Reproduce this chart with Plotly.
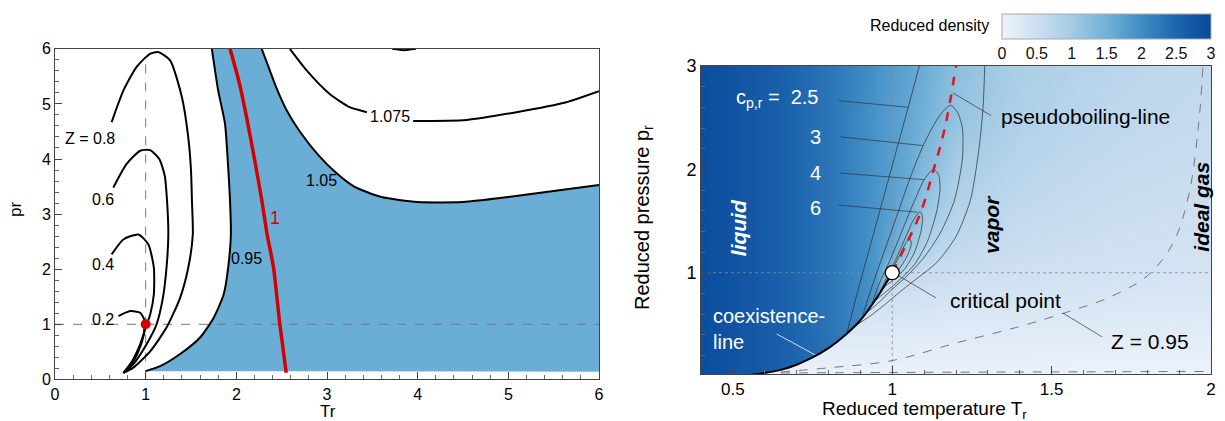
import plotly.graph_objects as go
from plotly.colors import sample_colorscale

FONT = "Liberation Sans, Arial, sans-serif"

# ---------------- LEFT PANEL DATA (compressibility chart) ----------------
z02_T = [0.70, 0.83, 0.94, 0.99, 0.985, 0.98, 0.92, 0.83, 0.754]
z02_p = [1.15, 1.24, 1.21, 1.06, 0.95, 0.82, 0.51, 0.24, 0.12]
z04_T = [0.625, 0.754, 0.92, 1.03, 1.09, 1.09, 1.05, 1.0, 0.94, 0.85, 0.754]
z04_p = [2.27, 2.54, 2.63, 2.45, 2.03, 1.54, 1.18, 0.94, 0.64, 0.33, 0.12]
z06_T = [0.643, 0.79, 0.94, 1.05, 1.15, 1.21, 1.235, 1.25, 1.23, 1.19, 1.12, 1.01, 0.86, 0.754]
z06_p = [3.48, 3.91, 4.15, 4.16, 4.00, 3.70, 3.26, 2.63, 2.03, 1.48, 1.00, 0.64, 0.27, 0.12]
z08_T = [0.625, 0.754, 0.90, 1.048, 1.14, 1.27, 1.40, 1.47, 1.50, 1.51, 1.52, 1.47, 1.38, 1.23, 1.05, 0.86, 0.754]
z08_p = [4.67, 5.24, 5.67, 5.91, 5.94, 5.79, 5.12, 4.39, 3.80, 3.26, 2.63, 2.03, 1.48, 0.94, 0.51, 0.21, 0.12]
z095_T = [1.73, 1.80, 1.875, 1.91, 1.93, 1.94, 1.91, 1.86, 1.75, 1.60, 1.38, 1.16, 1.0]
z095_p = [6.0, 5.24, 4.64, 3.85, 3.26, 2.63, 2.03, 1.54, 1.12, 0.76, 0.46, 0.24, 0.15]
z1_T = [1.93, 2.03, 2.12, 2.20, 2.28, 2.34, 2.41, 2.48, 2.55]
z1_p = [6.0, 5.4, 4.7, 4.0, 3.26, 2.63, 2.03, 1.0, 0.12]
z105_T = [2.28, 2.36, 2.44, 2.55, 2.70, 2.90, 3.10, 3.30, 3.60, 4.00, 4.50, 5.00, 5.50, 6.00]
z105_p = [6.0, 5.65, 5.30, 4.90, 4.50, 4.08, 3.75, 3.50, 3.31, 3.22, 3.22, 3.31, 3.42, 3.53]
z1075a_T = [2.59, 2.78, 3.03, 3.25, 3.44]
z1075a_p = [6.0, 5.6, 5.18, 4.94, 4.85]
z1075b_T = [3.95, 4.54, 5.09, 5.64, 6.0]
z1075b_p = [4.69, 4.71, 4.85, 5.03, 5.23]
z11_T = [3.72, 3.85, 3.98]
z11_p = [6.0, 5.975, 6.0]
fill_bottom_p = 0.14
Tr_max = 6.0

left_labels = [
    ("Z = 0.8", 0.386, 4.38), ("0.6", 0.533, 3.26), ("0.4", 0.533, 2.09),
    ("0.2", 0.533, 1.09), ("0.95", 2.11, 2.2), ("1.05", 2.94, 3.61),
    ("1.075", 3.69, 4.77),
]

# ---------------- RIGHT PANEL DATA ----------------
dens_T = [0.35, 0.5, 0.65, 0.8, 0.9, 0.95, 1.0, 1.05, 1.1, 1.2, 1.4, 1.7, 2.05]
dens_p = [-0.05, 0.3, 0.6, 0.9, 1.0, 1.2, 1.6, 2.0, 2.5, 3.1]
dens_z = [
    [2.95, 2.8, 2.6, 2.35, 2.1, 1.95, 0.02, 0.02, 0.02, 0.02, 0.02, 0.02, 0.02],
    [2.95, 2.8, 2.6, 2.35, 2.1, 1.95, 0.20, 0.18, 0.17, 0.16, 0.16, 0.15, 0.14],
    [2.95, 2.8, 2.6, 2.30, 2.05, 1.90, 0.38, 0.35, 0.33, 0.31, 0.30, 0.27, 0.25],
    [2.95, 2.8, 2.6, 2.30, 2.05, 1.85, 0.60, 0.55, 0.52, 0.48, 0.44, 0.38, 0.34],
    [2.95, 2.8, 2.6, 2.30, 2.05, 1.85, 1.00, 0.64, 0.57, 0.51, 0.46, 0.40, 0.36],
    [2.95, 2.8, 2.6, 2.30, 2.05, 1.85, 1.60, 1.05, 0.78, 0.63, 0.54, 0.46, 0.41],
    [2.95, 2.8, 2.6, 2.30, 2.05, 1.90, 1.72, 1.50, 1.12, 0.80, 0.65, 0.54, 0.48],
    [2.95, 2.8, 2.6, 2.30, 2.05, 1.90, 1.75, 1.60, 1.35, 0.95, 0.74, 0.61, 0.54],
    [2.95, 2.8, 2.6, 2.30, 2.05, 1.90, 1.78, 1.65, 1.50, 1.15, 0.85, 0.69, 0.60],
    [2.95, 2.8, 2.6, 2.30, 2.08, 1.92, 1.80, 1.70, 1.58, 1.25, 0.92, 0.75, 0.65],
]
# vapour side just below the coexistence line
vap_p = [-0.05, 0.3, 0.6, 0.9, 1.0]
vap_rho = [0.02, 0.20, 0.38, 0.60, 0.70]

coex_T = [0.55, 0.6, 0.65, 0.7, 0.75, 0.8, 0.85, 0.9, 0.95, 1.0]
coex_p = [0.01, 0.03, 0.06, 0.11, 0.18, 0.27, 0.39, 0.54, 0.75, 1.0]

pb_T = [1.0, 1.04, 1.09, 1.13, 1.165, 1.20]
pb_p = [1.0, 1.25, 1.59, 2.0, 2.4, 3.0]

cp25_left_T = [0.858, 0.89, 0.93, 0.97, 1.01, 1.05, 1.085]
cp25_left_p = [0.414, 0.8, 1.25, 1.7, 2.15, 2.6, 3.0]
cp25_right_T = [1.29, 1.285, 1.27, 1.245, 1.2, 1.14, 1.08, 1.03, 0.98, 0.93, 0.88]
cp25_right_p = [3.0, 2.6, 2.15, 1.7, 1.35, 1.1, 0.95, 0.83, 0.7, 0.58, 0.477]
cp3_T = [0.905, 0.94, 0.98, 1.02, 1.06, 1.10, 1.14, 1.165, 1.183, 1.205, 1.22, 1.22, 1.195,
         1.15, 1.10, 1.05, 1.0, 0.95, 0.915]
cp3_p = [0.561, 0.9, 1.25, 1.6, 1.95, 2.25, 2.48, 2.58, 2.62, 2.55, 2.4, 2.1, 1.7,
         1.38, 1.15, 0.98, 0.84, 0.69, 0.603]
cp4_T = [0.935, 0.96, 0.99, 1.03, 1.07, 1.10, 1.12, 1.13, 1.145, 1.15, 1.14, 1.11, 1.07,
         1.03, 0.99, 0.945]
cp4_p = [0.687, 0.9, 1.1, 1.4, 1.7, 1.9, 1.98, 2.0, 1.95, 1.82, 1.6, 1.3, 1.08,
         0.95, 0.84, 0.729]
cp6_T = [0.96, 0.985, 1.01, 1.04, 1.065, 1.08, 1.088, 1.095, 1.09, 1.07, 1.04, 1.01, 0.97]
cp6_p = [0.80, 0.97, 1.12, 1.33, 1.50, 1.57, 1.59, 1.54, 1.40, 1.20, 1.04, 0.95, 0.85]
cp10_T = [0.975, 0.995, 1.02, 1.045, 1.055, 1.06, 1.045, 1.02, 0.99, 0.98]
cp10_p = [0.875, 1.0, 1.15, 1.3, 1.33, 1.28, 1.15, 1.03, 0.93, 0.90]

z095r_T = [0.65, 0.8, 1.0, 1.2, 1.4, 1.55, 1.68, 1.8, 1.88, 1.93, 1.96, 1.975]
z095r_p = [0.04, 0.08, 0.15, 0.32, 0.48, 0.62, 0.76, 0.97, 1.28, 1.75, 2.4, 3.0]
zlow_T = [0.65, 1.0, 1.5, 2.0]
zlow_p = [0.03, 0.035, 0.04, 0.045]

leaders = [  # (T0, p0, T1, p1)
    (0.832, 2.665, 1.05, 2.60),
    (0.837, 2.315, 1.095, 2.23),
    (0.837, 1.964, 1.10, 1.90),
    (0.832, 1.655, 1.08, 1.585),
    (1.19, 2.74, 1.31, 2.52),
    (1.022, 0.967, 1.137, 0.757),
    (1.535, 0.61, 1.658, 0.38),
]
coex_leader = (0.638, 0.406, 0.758, 0.205)

dens_colorscale = [
    [0.0, "#eef3fb"], [0.1, "#dae7f5"], [0.2, "#c6dbef"], [0.333, "#a3cbe4"],
    [0.5, "#72b1d8"], [0.667, "#3f8dc5"], [0.833, "#1e66ae"], [1.0, "#08479a"],
]

fig = go.Figure()

# ================= LEFT PANEL =================
fill_T = z095_T + [Tr_max, Tr_max] + z105_T[::-1]
fill_p = z095_p + [fill_bottom_p, z105_p[-1]] + z105_p[::-1]
fig.add_trace(go.Scatter(x=fill_T, y=fill_p, fill="toself", fillcolor="#6aaed6",
                         line=dict(width=0), mode="lines", xaxis="x", yaxis="y",
                         hoverinfo="skip"))
fig.add_trace(go.Scatter(x=[1.0, 1.0], y=[0, 5.85], mode="lines",
                         line=dict(color="#777", width=1, dash="dash"), xaxis="x", yaxis="y"))
fig.add_trace(go.Scatter(x=[0, Tr_max], y=[1, 1], mode="lines",
                         line=dict(color="#777", width=1, dash="dash"), xaxis="x", yaxis="y"))
for T, p in [(z02_T, z02_p), (z04_T, z04_p), (z06_T, z06_p), (z08_T, z08_p),
             (z095_T, z095_p), (z105_T, z105_p), (z1075a_T, z1075a_p),
             (z1075b_T, z1075b_p), (z11_T, z11_p)]:
    fig.add_trace(go.Scatter(x=T, y=p, mode="lines", line=dict(color="black", width=2,
                             shape="spline", smoothing=0.6), xaxis="x", yaxis="y"))
fig.add_trace(go.Scatter(x=z1_T, y=z1_p, mode="lines",
                         line=dict(color="#d40000", width=3.5, shape="spline", smoothing=0.6),
                         xaxis="x", yaxis="y"))
fig.add_trace(go.Scatter(x=[1.0], y=[1.0], mode="markers",
                         marker=dict(color="#d40000", size=10, line=dict(width=0)),
                         xaxis="x", yaxis="y"))

# ================= RIGHT PANEL =================
fig.add_trace(go.Heatmap(
    x=dens_T, y=dens_p, z=dens_z, zmin=0, zmax=3, zsmooth="best",
    colorscale=dens_colorscale, xaxis="x2", yaxis="y2", hoverinfo="skip",
    colorbar=dict(orientation="h", x=1002 / 1225, xanchor="left", len=209 / 1225,
                  lenmode="fraction", y=1 - 14 / 421, yanchor="top", thickness=25,
                  xpad=0, ypad=0, outlinecolor="#aaaaaa", outlinewidth=1,
                  tickvals=[0, 0.5, 1, 1.5, 2, 2.5, 3],
                  ticktext=["0", "0.5", "1", "1.5", "2", "2.5", "3"],
                  ticks="", tickfont=dict(size=16, color="#111", family=FONT)),
))
vap_cols = sample_colorscale(dens_colorscale, [v / 3 for v in vap_rho])
vmin, vmax = vap_p[0], vap_p[-1]
grad_scale = [[(pp - vmin) / (vmax - vmin), c] for pp, c in zip(vap_p, vap_cols)]
poly_T = coex_T + [coex_T[-1], coex_T[0]]
poly_p = coex_p + [vap_p[0], vap_p[0]]
fig.add_trace(go.Scatter(x=poly_T, y=poly_p, fill="toself", mode="lines",
                         line=dict(width=0),
                         fillgradient=dict(type="vertical", colorscale=grad_scale,
                                           start=vmin, stop=vmax),
                         xaxis="x2", yaxis="y2", hoverinfo="skip"))
fig.add_trace(go.Scatter(x=[1, 1], y=[0.02, 3], mode="lines",
                         line=dict(color="#8a8a8a", width=0.8, dash="dot"), xaxis="x2", yaxis="y2"))
fig.add_trace(go.Scatter(x=[0.4, 2], y=[1, 1], mode="lines",
                         line=dict(color="#8a8a8a", width=0.8, dash="dot"), xaxis="x2", yaxis="y2"))
for T, p in [(z095r_T, z095r_p), (zlow_T, zlow_p)]:
    fig.add_trace(go.Scatter(x=T, y=p, mode="lines",
                             line=dict(color="#777", width=1, dash="dash", shape="spline"),
                             xaxis="x2", yaxis="y2"))
for T, p in [(cp25_left_T, cp25_left_p), (cp25_right_T, cp25_right_p), (cp3_T, cp3_p),
             (cp4_T, cp4_p), (cp6_T, cp6_p), (cp10_T, cp10_p)]:
    fig.add_trace(go.Scatter(x=T, y=p, mode="lines",
                             line=dict(color="#2a2a2a", width=0.7, shape="spline", smoothing=0.7),
                             xaxis="x2", yaxis="y2"))
for (a, b, c, d) in leaders:
    fig.add_trace(go.Scatter(x=[a, c], y=[b, d], mode="lines",
                             line=dict(color="#333", width=0.7), xaxis="x2", yaxis="y2"))
fig.add_trace(go.Scatter(x=[coex_leader[0], coex_leader[2]], y=[coex_leader[1], coex_leader[3]],
                         mode="lines", line=dict(color="white", width=0.8), xaxis="x2", yaxis="y2"))
fig.add_trace(go.Scatter(x=coex_T, y=coex_p, mode="lines",
                         line=dict(color="black", width=2, shape="spline"), xaxis="x2", yaxis="y2"))
fig.add_trace(go.Scatter(x=pb_T, y=pb_p, mode="lines",
                         line=dict(color="#e0161b", width=2.5, dash="dash", shape="spline"),
                         xaxis="x2", yaxis="y2"))
fig.add_trace(go.Scatter(x=[1.0], y=[1.0], mode="markers",
                         marker=dict(color="white", size=14, line=dict(color="black", width=1.2)),
                         xaxis="x2", yaxis="y2"))

# ================= ANNOTATIONS =================
def A(text, x, y, xref, yref, size, color="black", xanchor="center", angle=0, align="center"):
    return dict(text=text, x=x, y=y, xref=xref, yref=yref, showarrow=False,
                xanchor=xanchor, yanchor="middle", textangle=angle, align=align,
                font=dict(size=size, color=color, family=FONT))

ann = []
for txt, x, y in left_labels:
    ann.append(A(txt, x, y, "x", "y", 16))
ann.append(A("1", 2.43, 2.93, "x", "y", 18, color="#d40000"))
ann.append(A("Tr", 328 / 1225, 1 - 411 / 421, "paper", "paper", 17))
ann.append(A("pr", 15 / 1225, 1 - 210 / 421, "paper", "paper", 17, angle=-90))

ann.append(A("Reduced temperature T<sub>r</sub>", 925 / 1225, 1 - 409.5 / 421, "paper", "paper", 19))
ann.append(A("Reduced pressure p<sub>r</sub>", 644 / 1225, 1 - 218 / 421, "paper", "paper", 20, angle=-90))
ann.append(A("Reduced density", 991 / 1225, 1 - 26 / 421, "paper", "paper", 16, xanchor="right"))

ann.append(A("c<sub>p,r</sub> =  2.5", 0.777, 2.69, "x2", "y2", 20, color="white", xanchor="right"))
for txt, yy in [("3", 2.317), ("4", 1.967), ("6", 1.63)]:
    ann.append(A(txt, 0.758, yy, "x2", "y2", 20, color="white"))
ann.append(A("coexistence-<br>line", 0.432, 0.455, "x2", "y2", 20, color="white",
             xanchor="left", align="left"))
ann.append(A("<b><i>liquid</i></b>", 0.516, 1.44, "x2", "y2", 21, color="white", angle=-90))
ann.append(A("<b><i>vapor</i></b>", 1.309, 1.47, "x2", "y2", 21, angle=-90))
ann.append(A("<b><i>ideal gas</i></b>", 1.969, 1.64, "x2", "y2", 21, angle=-90))
ann.append(A("pseudoboiling-line", 1.334, 2.51, "x2", "y2", 21, xanchor="left"))
ann.append(A("critical point", 1.174, 0.735, "x2", "y2", 21, xanchor="left"))
ann.append(A("Z = 0.95", 1.68, 0.33, "x2", "y2", 21, xanchor="left"))

axis_common = dict(showgrid=False, zeroline=False, showline=True, linecolor="#444",
                   linewidth=1, mirror=True, ticks="inside", tickcolor="#444",
                   automargin=False)

fig.update_layout(
    width=1225, height=421, margin=dict(l=0, r=0, t=0, b=0, autoexpand=False),
    paper_bgcolor="white", plot_bgcolor="white", showlegend=False,
    font=dict(family=FONT, color="black"),
    xaxis=dict(domain=[55 / 1225, 599 / 1225], range=[0, 6], tick0=0, dtick=1, ticklen=7,
               minor=dict(dtick=0.2, tick0=0, ticks="inside", ticklen=4, tickcolor="#666"),
               tickfont=dict(size=16), **axis_common),
    yaxis=dict(domain=[1 - 379.4 / 421, 1 - 48.8 / 421], range=[0, 6], tick0=0, dtick=1,
               ticklen=7,
               minor=dict(dtick=0.2, tick0=0, ticks="inside", ticklen=4, tickcolor="#666"),
               tickfont=dict(size=16), **axis_common),
    xaxis2=dict(domain=[701 / 1225, 1211 / 1225], range=[0.4, 2.0], tick0=0.5, dtick=0.5,
                ticklen=8, anchor="y2",
                minor=dict(dtick=0.1, tick0=0, ticks="inside", ticklen=4, tickcolor="#666"),
                tickfont=dict(size=17), **axis_common),
    yaxis2=dict(domain=[1 - 374 / 421, 1 - 66 / 421], range=[0.02, 3.0], tick0=1, dtick=1,
                ticklen=8, anchor="x2",
                minor=dict(dtick=0.2, tick0=0, ticks="inside", ticklen=4, tickcolor="#666"),
                tickfont=dict(size=18), **axis_common),
    annotations=ann,
)

fig.write_html("out.html")
